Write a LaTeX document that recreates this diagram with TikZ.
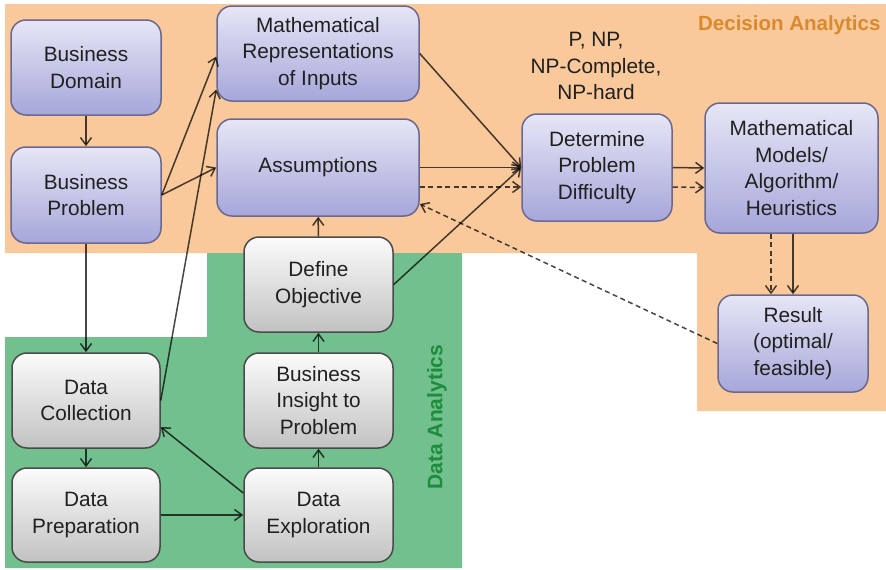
\documentclass[tikz,border=0pt]{standalone}
\usepackage{fontspec}
\setmainfont{Liberation Sans}
\usetikzlibrary{arrows.meta}
\definecolor{decisionbg}{HTML}{F9C99B}
\definecolor{databg}{HTML}{72C08D}
\definecolor{decisionlabel}{HTML}{D98A2E}
\definecolor{datalabel}{HTML}{1E8C3C}
\definecolor{bluetop}{HTML}{E6E6F6}
\definecolor{bluebot}{HTML}{A6A6DA}
\definecolor{blueline}{HTML}{6A6890}
\definecolor{graytop}{HTML}{FBFBFB}
\definecolor{graybot}{HTML}{C2C2C2}
\definecolor{grayline}{HTML}{4A4A4A}
\definecolor{txt}{HTML}{202020}
\begin{document}
\begin{tikzpicture}[x=1pt,y=-1pt,
  box/.style={rounded corners=15pt, line width=1.5pt, align=center, inner sep=2pt,
    text=txt, font=\fontsize{20.8}{26.5}\selectfont},
  bluebox/.style={box, draw=blueline, top color=bluetop, bottom color=bluebot},
  graybox/.style={box, draw=grayline, top color=graytop, bottom color=graybot},
  flow/.style={draw=black, draw opacity=0.72, line width=1.5pt,
    -{Straight Barb[length=7.5pt,width=11pt]}},
  dflow/.style={flow, dash pattern=on 5pt off 3.5pt}
]
\useasboundingbox (0,0) rectangle (886,570);

% background regions
\fill[decisionbg] (5,4) -- (886,4) -- (886,411) -- (697,411) -- (697,253) -- (5,253) -- cycle;
\fill[databg] (207,253) -- (462,253) -- (462,568) -- (5,568) -- (5,337) -- (207,337) -- cycle;

% region labels
\node[text=decisionlabel, font=\bfseries\fontsize{20.5}{24}\selectfont, anchor=east] (declabel) at (884,25) {Decision Analytics};
\node[text=datalabel, font=\bfseries\fontsize{21}{24}\selectfont, rotate=90] (datalabel) at (437,417) {Data Analytics};

% decision analytics boxes
\node[bluebox, minimum width=150pt, minimum height=95pt] (bd) at (86,67.5) {Business\\Domain};
\node[bluebox, minimum width=150pt, minimum height=96pt] (bp) at (86,195) {Business\\Problem};
\node[bluebox, minimum width=202pt, minimum height=95pt] (mri) at (318,53.5) {Mathematical\\Representations\\of Inputs};
\node[bluebox, minimum width=202pt, minimum height=97pt] (asm) at (318,167.5) {Assumptions};
\node[bluebox, minimum width=150pt, minimum height=107pt] (dpd) at (597,167.5) {Determine\\Problem\\Difficulty};
\node[bluebox, minimum width=173pt, minimum height=130pt] (mm) at (791.5,168) {Mathematical\\Models/\\Algorithm/\\Heuristics};
\node[bluebox, minimum width=150pt, minimum height=97pt] (res) at (793,343.5) {Result\\(optimal/\\feasible)};
\node[align=center, text=txt, font=\fontsize{20.8}{26.5}\selectfont] (cls) at (596,66) {P, NP,\\NP-Complete,\\NP-hard};

% data analytics boxes
\node[graybox, minimum width=149pt, minimum height=95pt] (dobj) at (318.5,284.5) {Define\\Objective};
\node[graybox, minimum width=149pt, minimum height=95pt] (bi) at (318.5,400.5) {Business\\Insight to\\Problem};
\node[graybox, minimum width=149pt, minimum height=94pt] (de) at (318.5,515) {Data\\Exploration};
\node[graybox, minimum width=148pt, minimum height=95pt] (dc) at (86,400.5) {Data\\Collection};
\node[graybox, minimum width=148pt, minimum height=94pt] (dp) at (86,515) {Data\\Preparation};

% connectors
\draw[flow] (bd) -- (bp);
\draw[flow] (bp.east) -- ([yshift=-3pt]mri.west);
\draw[flow] (bp.east) -- (asm.west);
\draw[flow] (bp) -- (dc);
\draw[flow] (dc.east) -- ([yshift=-36pt]mri.west);
\draw[flow] (dc) -- (dp);
\draw[flow] (dp) -- (de);
\draw[flow] ([yshift=22pt]de.west) -- ([yshift=-26.5pt]dc.east);
\draw[flow] (de) -- (bi);
\draw[flow] (bi) -- (dobj);
\draw[flow] (dobj) -- (asm);
\draw[flow] (dobj.east) -- (dpd.west);
\draw[flow] (mri.east) -- (dpd.west);
\draw[flow] (asm.east) -- (dpd.west);
\draw[dflow] ([yshift=-19.5pt]asm.east) -- ([yshift=-19.5pt]dpd.west);
\draw[flow] (dpd.east) -- (mm.west);
\draw[dflow] ([yshift=-19.5pt]dpd.east) -- ([yshift=-19.5pt]mm.west);
\draw[flow] ([xshift=1.5pt]mm.south) -- (res.north);
\draw[dflow] ([xshift=-20.5pt]mm.south) -- ([xshift=-22pt]res.north);
\draw[dflow] (res.west) -- ([yshift=-36.5pt]asm.east);
\end{tikzpicture}
\end{document}
